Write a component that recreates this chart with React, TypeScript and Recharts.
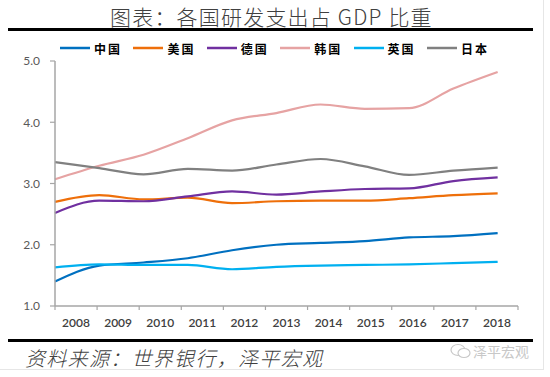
import React from 'react';
import { LineChart, Line, XAxis, YAxis } from 'recharts';

const years = [2008, 2009, 2010, 2011, 2012, 2013, 2014, 2015, 2016, 2017, 2018];
const yearLabels = years.map(String);
const seriesNames = ['中国', '美国', '德国', '韩国', '英国', '日本'];
const seriesColors = ['#0070C0', '#EE6F0A', '#7030A0', '#E6A3A3', '#00B0F0', '#808080'];

const china = [1.40, 1.66, 1.71, 1.78, 1.91, 2.00, 2.03, 2.06, 2.12, 2.14, 2.19];
const usa = [2.70, 2.81, 2.74, 2.77, 2.68, 2.71, 2.72, 2.72, 2.76, 2.81, 2.84];
const germany = [2.52, 2.72, 2.71, 2.79, 2.87, 2.82, 2.87, 2.91, 2.92, 3.04, 3.10];
const korea = [3.07, 3.29, 3.47, 3.74, 4.03, 4.15, 4.29, 4.22, 4.23, 4.55, 4.82];
const uk = [1.63, 1.68, 1.67, 1.67, 1.60, 1.64, 1.66, 1.67, 1.68, 1.70, 1.72];
const japan = [3.35, 3.25, 3.15, 3.24, 3.21, 3.31, 3.40, 3.28, 3.14, 3.21, 3.26];
const yTicks = [1, 2, 3, 4, 5];

const seriesValues = [china, usa, germany, korea, uk, japan];

const data = years.map((y, i) => {
  const row: Record<string, number> = { year: y };
  seriesNames.forEach((n, k) => {
    row[n] = seriesValues[k][i];
  });
  return row;
});

const xMin = 2008;
const xMax = 2018.46;
const step = (xMax - xMin) / years.length;
const boundaryTicks = Array.from({ length: years.length + 1 }, (_, i) => xMin + step * i);
const labelTicks = years.map((_, i) => xMin + step * (i + 0.5));

const cjk = '"Noto Sans CJK SC", "Noto Sans", sans-serif';

export default function App() {
  return (
    <div style={{ position: 'absolute', left: 0, top: 0, width: 550, height: 377, background: '#fff', overflow: 'hidden' }}>
      {/* faint frame */}
      <div style={{ position: 'absolute', left: 543, top: 0, width: 1, height: 370, background: '#e6e6e6' }} />
      <div style={{ position: 'absolute', left: 0, top: 369, width: 544, height: 1, background: '#e6e6e6' }} />
      {/* title */}
      <div style={{ position: 'absolute', left: 110, top: 2, fontFamily: cjk, fontWeight: 300, fontSize: 21, color: '#404040', whiteSpace: 'nowrap', letterSpacing: 1.2, lineHeight: '28px' }}>
        图表：各国研发支出占 GDP 比重
      </div>
      <div style={{ position: 'absolute', left: 8, top: 28, width: 525, height: 3, background: '#000' }} />
      {/* legend */}
      {seriesNames.map((n, i) => (
        <div key={n} style={{ position: 'absolute', left: 60 + i * 73.4, top: 40, height: 16, display: 'flex', alignItems: 'center', whiteSpace: 'nowrap' }}>
          <svg width={30} height={4}>
            <line x1={0} y1={2} x2={30} y2={2} stroke={seriesColors[i]} strokeWidth={2.5} />
          </svg>
          <span style={{ marginLeft: 4, fontFamily: cjk, fontWeight: 700, fontSize: 12, letterSpacing: 2, color: '#000' }}>{n}</span>
        </div>
      ))}
      <div style={{ position: 'absolute', left: 0, top: 0 }}>
        <LineChart width={550} height={377} data={data} margin={{ top: 61, right: 32, left: 5, bottom: 41 }}>
          <XAxis
            xAxisId="b"
            dataKey="year"
            type="number"
            domain={[xMin, xMax]}
            ticks={boundaryTicks}
            interval={0}
            height={5}
            tickSize={4}
            tickFormatter={() => ''}
            axisLine={{ stroke: '#a6a6a6', strokeWidth: 1.5 }}
            tickLine={{ stroke: '#a6a6a6', strokeWidth: 1.2 }}
            allowDecimals
          />
          <XAxis
            xAxisId="c"
            dataKey="year"
            type="number"
            domain={[xMin, xMax]}
            ticks={labelTicks}
            interval={0}
            height={25}
            tickSize={0}
            tickMargin={7}
            axisLine={false}
            tickLine={false}
            tick={{ fontFamily: 'Lato, "Open Sans", sans-serif', fontSize: 12, fill: '#404040', fontWeight: 600 }}
            tickFormatter={(v: number) => yearLabels[Math.round((v - xMin) / step - 0.5)]}
          />
          <YAxis
            type="number"
            domain={[1, 5]}
            ticks={yTicks}
            interval={0}
            width={50}
            tickSize={5}
            tickMargin={10}
            axisLine={{ stroke: '#a6a6a6', strokeWidth: 1.5 }}
            tickLine={{ stroke: '#a6a6a6', strokeWidth: 1.2 }}
            tick={{ fontFamily: 'Lato, "Open Sans", sans-serif', fontSize: 12, fill: '#595959' }}
            tickFormatter={(v: number) => v.toFixed(1)}
          />
          {seriesNames.map((n, i) => (
            <Line
              key={n}
              xAxisId="b"
              dataKey={n}
              type="monotone"
              stroke={seriesColors[i]}
              strokeWidth={2.2}
              dot={false}
              activeDot={false}
              isAnimationActive={false}
            />
          ))}
        </LineChart>
      </div>
      <div style={{ position: 'absolute', left: 8, top: 339, width: 525, height: 3, background: '#000' }} />
      {/* source */}
      <div style={{ position: 'absolute', left: 25, top: 344, fontFamily: cjk, fontWeight: 300, fontStyle: 'italic', fontSize: 20, letterSpacing: 1.3, color: '#404040', whiteSpace: 'nowrap', lineHeight: '28px' }}>
        资料来源：世界银行，泽平宏观
      </div>
      {/* watermark */}
      <div style={{ position: 'absolute', left: 450, top: 341, display: 'flex', alignItems: 'center', whiteSpace: 'nowrap' }}>
        <svg width={22} height={16}>
          <ellipse cx={8} cy={7} rx={7} ry={5.5} fill="none" stroke="#c8c8c8" strokeWidth={1.2} />
          <ellipse cx={14} cy={10} rx={6} ry={4.5} fill="#fff" stroke="#c8c8c8" strokeWidth={1.2} />
        </svg>
        <span style={{ marginLeft: 1, fontFamily: cjk, fontSize: 14, color: '#c8c8c8' }}>泽平宏观</span>
      </div>
    </div>
  );
}
